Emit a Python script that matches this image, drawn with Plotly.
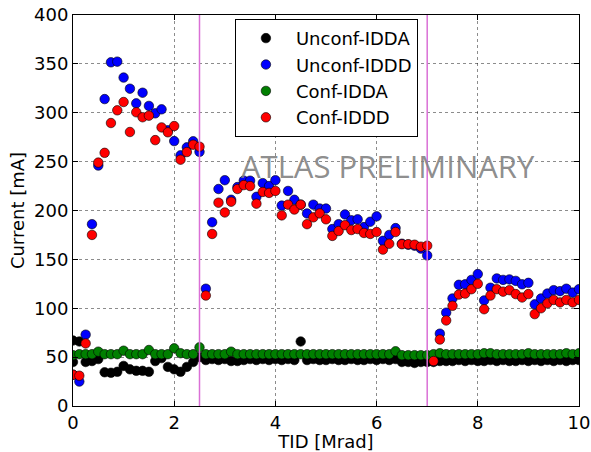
import numpy as np
import plotly.graph_objects as go

step = 0.125
tid = [round(i * step, 3) for i in range(81)]

unconf_idda_x = [0.0] + tid
unconf_idda = [45, 67, 66, 45, 46, 48, 34.5, 34, 35, 41, 37.5, 36, 36, 35, 46, 49, 40, 37.5, 35, 40, 45, 50,
               47, 48, 47, 48, 46, 46, 47, 48, 47, 48, 47, 48, 47, 48, 47, 66,
               47, 48, 47, 47, 48, 47, 47, 48, 47, 47, 48, 47, 48, 47, 48,
               45, 45, 44, 45, 45, 45, 46, 46, 46, 47, 46, 47, 46, 46, 47, 46, 47, 46, 46,
               47, 46, 47, 46, 47, 46, 47, 46, 47, 47]

unconf_iddd = [32, 25, 73, 186, 246, 314, 351.6, 352.3, 336, 324.6, 309.6, 320.5, 307, 299.4, 303.5, 282,
               271, 256.4, 264.6, 270.8, 260,
               120, 188, 222, 231, 211, 224, 230.5, 230.5, 214, 228, 225, 231, 205, 220, 211, 206,
               197, 206, 202, 202, 181, 186, 196, 190, 191, 183, 188.5, 194, 169, 175, 182,
               166, 165, 164, 161, 154, 46, 74, 95.5, 110, 124, 124.5, 129, 135, 108, 121, 130.5,
               129, 129.5, 128, 124.5, 126, 104, 110, 115, 118.5, 117.5, 120, 116, 119.5]

conf_idda = [52, 53, 53, 53, 55.6, 53, 53, 53, 56.6, 53, 53, 53, 57.3, 53, 53, 53, 59, 54, 53, 53, 60,
             53, 53, 53, 53, 55.6, 53, 53, 53, 53, 53, 53, 53, 53, 53, 53, 53,
             53, 53, 53, 53, 53, 53, 53, 53, 53, 53, 53, 53, 53, 53, 56,
             52, 52, 52, 52, 52, 53, 54, 53, 53, 53, 53, 53, 53, 54, 54, 53,
             53, 53, 53, 53, 54, 53, 53, 53, 53, 53, 54, 53, 54]

conf_iddd = [32, 31, 64, 175, 249, 259, 289.5, 302.5, 311, 280.3, 300.5, 295.4, 297, 272, 285, 280,
             286.4, 252, 259.8, 267.3, 265.3,
             113, 176, 208, 198, 209, 222, 226, 225, 207, 219, 218, 220, 195, 206, 201, 206,
             186, 193, 197, 191, 174, 179, 185, 180, 181, 177, 176, 178, 160, 166, 178,
             165.5, 165.5, 165, 163, 164, 46, 68, 87.5, 102.5, 114, 115, 119.5, 125, 99, 113, 119.5,
             117, 118.5, 114.5, 111, 114.5, 94, 100, 105, 108.5, 106, 108.5, 106, 108.5]

phase_lines = [2.5, 7.0]

series = [
    ("Unconf-IDDA", unconf_idda_x, unconf_idda, "#000000"),
    ("Unconf-IDDD", tid, unconf_iddd, "#0000ff"),
    ("Conf-IDDA", tid, conf_idda, "#007f00"),
    ("Conf-IDDD", tid, conf_iddd, "#ff0000"),
]

fig = go.Figure()
for name, xs, ys, col in series:
    fig.add_trace(go.Scatter(
        x=xs, y=ys, mode="markers", name=name,
        marker=dict(size=9.5, color=col, line=dict(color="black", width=0.6)),
        cliponaxis=True,
    ))

for xv in phase_lines:
    fig.add_vline(x=xv, line=dict(color="#da70d6", width=1.5), layer="above")

fig.add_annotation(x=6.22, y=246, xref="x", yref="y", text="ATLAS PRELIMINARY",
                   showarrow=False, font=dict(family="Open Sans", size=31, color="rgba(128,128,128,0.9)"))

axis_common = dict(
    showline=True, linecolor="black", linewidth=1, mirror="ticks",
    ticks="inside", ticklen=5, tickcolor="black",
    showgrid=True, gridcolor="rgba(0,0,0,0.45)", griddash="dot", gridwidth=1,
    zeroline=False, tickfont=dict(family="DejaVu Sans", size=18, color="black"),
    automargin=False,
)

fig.update_xaxes(range=[0, 10], tickvals=[0, 2, 4, 6, 8, 10],
                 title=dict(text="TID [Mrad]", font=dict(family="DejaVu Sans", size=18, color="black")),
                 **axis_common)
fig.update_yaxes(range=[0, 400], tickvals=list(range(0, 401, 50)),
                 title=dict(text="Current [mA]", font=dict(family="DejaVu Sans", size=18, color="black"),
                            standoff=4),
                 **axis_common)

fig.update_layout(
    width=591, height=452,
    margin=dict(l=73, r=12, t=15, b=46),
    paper_bgcolor="white", plot_bgcolor="white",
    showlegend=True,
    legend=dict(x=0.32, y=0.99, xanchor="left", yanchor="top",
                bgcolor="white", bordercolor="black", borderwidth=1,
                font=dict(family="DejaVu Sans", size=18, color="black"),
                itemwidth=50, tracegroupgap=0, entrywidth=150, entrywidthmode="pixels"),
)

fig.write_html("out.html")
